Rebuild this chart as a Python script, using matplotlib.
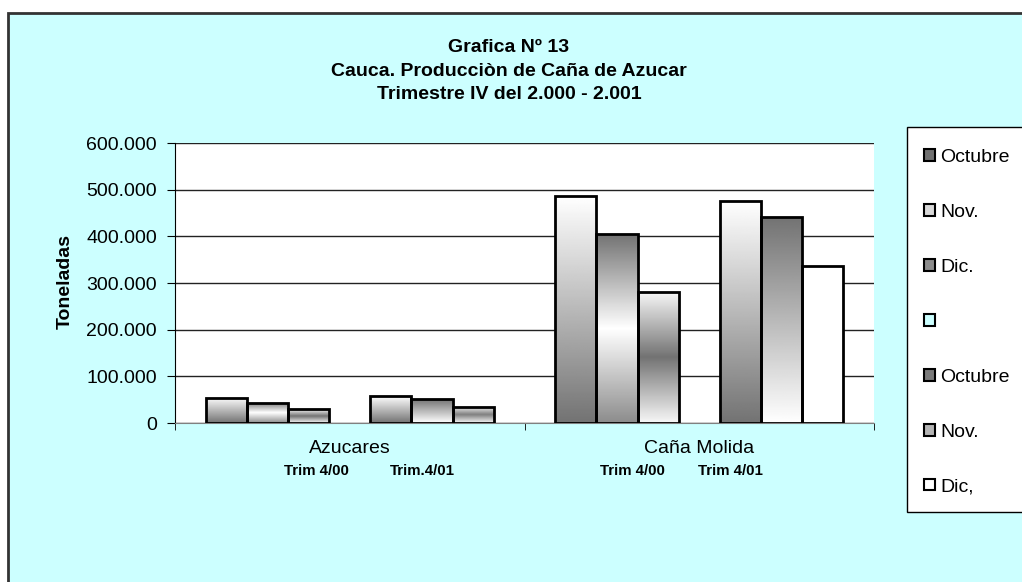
import numpy as np
import matplotlib.pyplot as plt
from matplotlib.patches import Rectangle, Patch
from matplotlib.ticker import FuncFormatter
from matplotlib.transforms import blended_transform_factory

plt.rcParams['font.family'] = ['Liberation Sans', 'DejaVu Sans']

# datos
categorias = ['Azucares', 'Caña Molida']
series = ['Octubre', 'Nov.', 'Dic.', ' ', 'Octubre', 'Nov.', 'Dic,']
azucares = [54000, 43000, 29000, 0, 57000, 51000, 34500]
cana_molida = [485600, 404500, 281700, 0, 474800, 440500, 337000]
trim_labels = ['Trim 4/00', 'Trim.4/01', 'Trim 4/00', 'Trim 4/01']
trim_x = [-0.094, 0.207, 0.81, 1.088]
yticks = [0, 100000, 200000, 300000, 400000, 500000, 600000]

# degradados (arriba -> abajo, escala de grises) por serie
grad = [[1.0, 0.45], [0.45, 1.0, 0.55], [0.97, 0.45, 0.97], None,
        [1.0, 0.45], [0.45, 1.0], [1.0, 1.0]]
grad_extra = {(0, 6): [0.97, 0.5, 0.97]}
leg_colors = ['#707070', '#d8d8d8', '#8c8c8c', '#ccffff', '#7a7a7a', '#b4b4b4', 'white']

W, H = 1022, 582
fig = plt.figure(figsize=(W / 100, H / 100), dpi=100)
fig.patch.set_facecolor('white')
fig.add_artist(Rectangle((8 / W, -0.1), 1.2, 1.1 - 13 / H, transform=fig.transFigure,
                         facecolor='#ccffff', edgecolor='#333333', lw=2, zorder=-2))

ax = fig.add_axes([175 / W, 1 - 423 / H, 699 / W, 280 / H])
ax.set_facecolor('white')


def fill_grad(ax, rect, stops):
    vals = np.interp(np.linspace(0, 1, 256), np.linspace(0, 1, len(stops)), stops)
    x0, y0 = rect.get_x(), rect.get_y()
    im = ax.imshow(vals.reshape(-1, 1), extent=[x0, x0 + rect.get_width(), y0, y0 + rect.get_height()],
                   origin='upper', cmap='gray', vmin=0, vmax=1, aspect='auto',
                   interpolation='bilinear', zorder=2)
    im.set_clip_path(rect)


datos = np.array([azucares, cana_molida])
n = len(series)
w = 1 / (n + 1.5)
x = np.arange(len(categorias))
for i in range(n):
    lw = 0 if grad[i] is None else 2
    bars = ax.bar(x + (i - (n - 1) / 2) * w, datos[:, i], w, facecolor='none',
                  edgecolor='black', lw=lw, zorder=3)
    for j, b in enumerate(bars):
        stops = grad_extra.get((j, i), grad[i])
        if stops is not None and datos[j, i] > 0:
            fill_grad(ax, b, stops)

ax.set_xlim(-0.5, 1.5)
ax.set_ylim(0, 600000)
ax.set_yticks(yticks)
ax.yaxis.set_major_formatter(FuncFormatter(lambda v, p: f'{int(v):,}'.replace(',', '.')))
ax.yaxis.grid(True, color='#222222', lw=1)
ax.set_axisbelow(True)
ax.tick_params(axis='y', direction='out', length=6, pad=7, labelsize=14, color='black')

ax.set_xticks(x)
ax.set_xticklabels(categorias)
ax.set_xticks([-0.5, 0.5, 1.5], minor=True)
ax.tick_params(axis='x', which='major', length=0, pad=12, labelsize=14)
ax.tick_params(axis='x', which='minor', direction='out', length=5, color='black')

for s in ['top', 'right']:
    ax.spines[s].set_visible(False)
ax.spines['left'].set_color('black')
ax.spines['bottom'].set_color('#808080')

tr = blended_transform_factory(ax.transData, ax.transAxes)
for lab, xp in zip(trim_labels, trim_x):
    ax.text(xp, -0.171, lab, transform=tr, ha='center', va='center',
            fontsize=10.8, fontweight='bold')

fig.text(65 / W, 1 - 281 / H, 'Toneladas', rotation=90, ha='center', va='center',
         fontsize=14, fontweight='bold')
fig.text(509 / W, 1 - 71 / H,
         'Grafica Nº 13\nCauca. Producciòn de Caña de Azucar\nTrimestre IV del 2.000 - 2.001',
         ha='center', va='center', fontsize=14, fontweight='bold', linespacing=1.5)

# leyenda
fig.add_artist(Rectangle((907 / W, 1 - 512 / H), 0.2, (512 - 127) / H, transform=fig.transFigure,
                         facecolor='white', edgecolor='black', lw=1, zorder=1))
handles = [Patch(facecolor=c, edgecolor='black', lw=1.5) for c in leg_colors]
fig.legend(handles, series, loc='upper left', bbox_to_anchor=(924 / W, 1 - 149 / H),
           frameon=False, fontsize=14, handlelength=0.55, handleheight=0.55,
           handletextpad=0.3, labelspacing=1.95, borderpad=0, borderaxespad=0)

fig.savefig('out.png', dpi=100, facecolor='white')
